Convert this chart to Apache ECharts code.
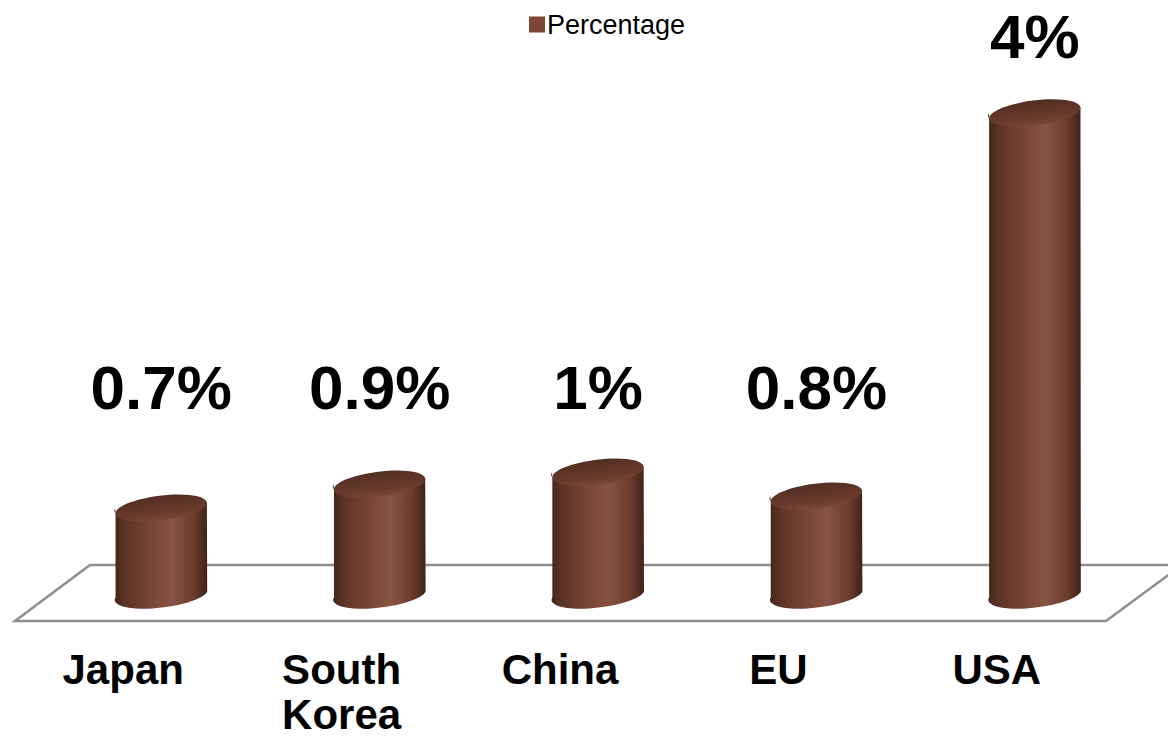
<!DOCTYPE html>
<html>
<head>
<meta charset="utf-8">
<script src="https://cdn.jsdelivr.net/npm/echarts@6/dist/echarts.min.js"></script>
<style>
html,body{margin:0;padding:0;background:#fff;}
#chart{width:1168px;height:737px;}
</style>
</head>
<body>
<div id="chart"></div>
<script>
var categories = ['Japan', 'South Korea', 'China', 'EU', 'USA'];
var percentages = [0.7, 0.9, 1, 0.8, 4];
var seriesName = 'Percentage';

var chart = echarts.init(document.getElementById('chart'), null, {renderer: 'svg'});

var FONT = '"Liberation Sans", Arial, sans-serif';

function renderCylinder(params, api) {
  var idx = api.value(0);
  var val = api.value(1);
  var base = api.coord([idx, 0]);
  var top = api.coord([idx, val]);
  var cx = base[0];
  var yb = base[1];
  var yt = top[1];
  var rx = 46, ry = 12.5, rot = -7;
  var a = rot * Math.PI / 180;
  var dx = rx * Math.cos(a), dy = rx * Math.sin(a);
  var Lt = [cx - dx, yt - dy], Rt = [cx + dx, yt + dy];
  var Lb = [cx - dx, yb - dy], Rb = [cx + dx, yb + dy];
  var body = 'M' + Lt[0] + ' ' + Lt[1] + ' L' + Lb[0] + ' ' + Lb[1] +
    ' A' + rx + ' ' + ry + ' ' + rot + ' 0 0 ' + Rb[0] + ' ' + Rb[1] +
    ' L' + Rt[0] + ' ' + Rt[1] +
    ' A' + rx + ' ' + ry + ' ' + rot + ' 0 1 ' + Lt[0] + ' ' + Lt[1] + ' Z';
  var labelY = Math.min(yt - 77, 387);
  return {
    type: 'group',
    children: [
      {
        type: 'path',
        shape: {pathData: body},
        style: {
          fill: new echarts.graphic.LinearGradient(0, 0, 1, 0, [
            {offset: 0, color: '#43251b'},
            {offset: 0.12, color: '#5c3427'},
            {offset: 0.4, color: '#7a4535'},
            {offset: 0.62, color: '#885343'},
            {offset: 0.85, color: '#6c3c2d'},
            {offset: 1, color: '#40221a'}
          ]),
          stroke: null
        }
      },
      {
        type: 'ellipse',
        shape: {cx: 0, cy: 0, rx: rx, ry: ry},
        x: cx, y: yt, rotation: -a,
        style: {
          fill: new echarts.graphic.LinearGradient(0, 0, 0, 1, [
            {offset: 0, color: '#532e22'},
            {offset: 0.7, color: '#693b2d'},
            {offset: 1, color: '#7c4736'}
          ]),
          stroke: null
        }
      },
      {
        type: 'text',
        x: cx, y: labelY,
        style: {
          text: val + '%',
          align: 'center',
          verticalAlign: 'middle',
          font: 'bold 62px ' + FONT,
          fill: '#000'
        }
      }
    ]
  };
}

var option = {
  backgroundColor: '#ffffff',
  animation: false,
  legend: {
    show: true,
    left: 524,
    top: 6,
    icon: 'rect',
    itemWidth: 16,
    itemHeight: 16,
    itemGap: 10,
    textStyle: {fontSize: 27, color: '#000', fontFamily: FONT, padding: [0, 0, 0, -3]},
    data: [seriesName]
  },
  grid: {left: 52, right: 24, top: 113, bottom: 145, containLabel: false, outerBoundsMode: 'none'},
  xAxis: {
    type: 'category',
    data: categories,
    axisLine: {show: false},
    axisTick: {show: false},
    splitLine: {show: false},
    axisLabel: {
      interval: 0,
      margin: 55,
      color: '#000',
      fontFamily: FONT,
      fontWeight: 'bold',
      fontSize: 42,
      lineHeight: 45,
      padding: [0, 76, 0, 0],
      formatter: function (v) { return v.replace(' ', '\n'); }
    }
  },
  yAxis: {
    type: 'value',
    min: 0,
    max: 4,
    show: false,
    splitLine: {show: false}
  },
  graphic: [
    {
      type: 'polygon',
      z: -10,
      silent: true,
      shape: {points: [[15, 621], [90, 565], [1182, 565], [1106, 621]]},
      style: {fill: '#ffffff', stroke: '#8e8e8e', lineWidth: 2.5}
    }
  ],
  series: [
    {
      name: seriesName,
      type: 'custom',
      z: 5,
      itemStyle: {color: '#7c4535'},
      renderItem: renderCylinder,
      encode: {x: 0, y: 1},
      data: percentages.map(function (v, i) { return [i, v]; })
    }
  ]
};

chart.setOption(option);
</script>
</body>
</html>
